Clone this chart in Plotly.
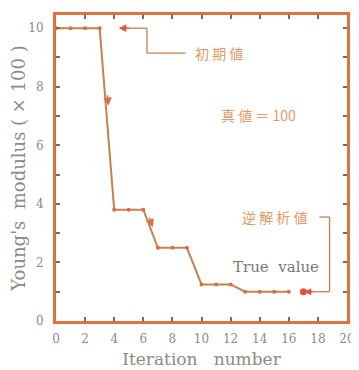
import plotly.graph_objects as go

# Data
iteration = [0, 1, 2, 3, 4, 5, 6, 7, 8, 9, 10, 11, 12, 13, 14, 15, 16]
modulus = [10, 10, 10, 10, 3.8, 3.8, 3.8, 2.5, 2.5, 2.5, 1.25, 1.25, 1.25, 1.0, 1.0, 1.0, 1.0]
inverse_x = [17]
inverse_y = [1.0]
x_ticks = [0, 2, 4, 6, 8, 10, 12, 14, 16, 18, 20]
y_ticks = [0, 2, 4, 6, 8, 10]

FRAME = "#E2703C"
LINE = "#C7804E"
TXT_OR = "#E39A68"
GRAY = "#8E8A84"
SERIF = "DejaVu Serif, Liberation Serif, serif"
CJK = "Noto Sans CJK JP"

fig = go.Figure()
fig.add_trace(go.Scatter(
    x=iteration, y=modulus, mode="lines+markers",
    line=dict(color=LINE, width=2),
    marker=dict(size=4, color="#D8703F"),
    showlegend=False, cliponaxis=False,
))
fig.add_trace(go.Scatter(
    x=inverse_x, y=inverse_y, mode="markers",
    marker=dict(size=7, color="#E0503A"),
    showlegend=False,
))

# Bracket lines (初期値)
br = dict(color=LINE, width=1.3)
fig.add_shape(type="line", x0=4.4, y0=10, x1=6.25, y1=10, line=br)
fig.add_shape(type="line", x0=6.25, y0=10, x1=6.25, y1=9.15, line=br)
fig.add_shape(type="line", x0=6.25, y0=9.15, x1=8.9, y1=9.15, line=br)
# Bracket lines (逆解析値)
fig.add_shape(type="line", x0=17.4, y0=1.0, x1=18.8, y1=1.0, line=br)
fig.add_shape(type="line", x0=18.8, y0=1.0, x1=18.8, y1=3.55, line=br)
fig.add_shape(type="line", x0=18.1, y0=3.55, x1=18.8, y1=3.55, line=br)

# Arrows
fig.add_annotation(x=4.3, y=10, ax=12, ay=0, text="", showarrow=True,
                   arrowhead=2, arrowsize=1.2, arrowwidth=1.3, arrowcolor="#D8603A")
fig.add_annotation(x=3.6, y=7.35, ax=-1, ay=-12, text="", showarrow=True,
                   arrowhead=2, arrowsize=1.1, arrowwidth=1.5, arrowcolor="#D8703F")
fig.add_annotation(x=6.65, y=3.2, ax=-4, ay=-11, text="", showarrow=True,
                   arrowhead=2, arrowsize=1.1, arrowwidth=1.5, arrowcolor="#D8703F")
fig.add_annotation(x=17.05, y=1.0, ax=10, ay=0, text="", showarrow=True,
                   arrowhead=2, arrowsize=1.1, arrowwidth=1.3, arrowcolor="#E0503A")

# Texts
fig.add_annotation(x=9.4, y=9.15, text="初 期 値", showarrow=False, xanchor="left",
                   font=dict(family=CJK, size=14, color=TXT_OR))
fig.add_annotation(x=13.9, y=7.05, text="真 値 ＝ 100", showarrow=False,
                   font=dict(family=CJK, size=14, color=TXT_OR))
fig.add_annotation(x=17.4, y=3.55, text="逆 解 析 値", showarrow=False, xanchor="right",
                   font=dict(family=CJK, size=14, color=TXT_OR))
fig.add_annotation(x=15.1, y=1.85, text="True  value", showarrow=False,
                   font=dict(family=SERIF, size=15, color="#7E786E"))

axis_common = dict(
    showline=True, linecolor=FRAME, linewidth=3, mirror="ticks",
    ticks="inside", ticklen=4, tickwidth=1.5, tickcolor="#7F6A52",
    showgrid=False, zeroline=False,
    tickfont=dict(family=SERIF, size=12, color=GRAY),
)
fig.update_xaxes(
    range=[0, 20], tickvals=x_ticks, ticktext=[str(v) for v in x_ticks],
    ticklabeloverflow="allow", ticklabelstandoff=5,
    title=dict(text="Iteration   number", font=dict(family=SERIF, size=17, color=GRAY), standoff=8),
    **axis_common,
)
fig.update_yaxes(
    range=[0, 10.45], tickvals=y_ticks, ticktext=[str(v) for v in y_ticks],
    ticklabelstandoff=7,
    minor=dict(dtick=1, ticks="inside", ticklen=4, tickcolor="#7F6A52", tickwidth=1.5),
    title=dict(text="Young's  modulus ( × 100 )", font=dict(family=SERIF, size=18, color=GRAY), standoff=4),
    **axis_common,
)
fig.update_layout(
    width=351, height=362,
    margin=dict(l=45, r=5, t=4, b=48),
    paper_bgcolor="white", plot_bgcolor="white",
)
fig.write_html("out.html")
